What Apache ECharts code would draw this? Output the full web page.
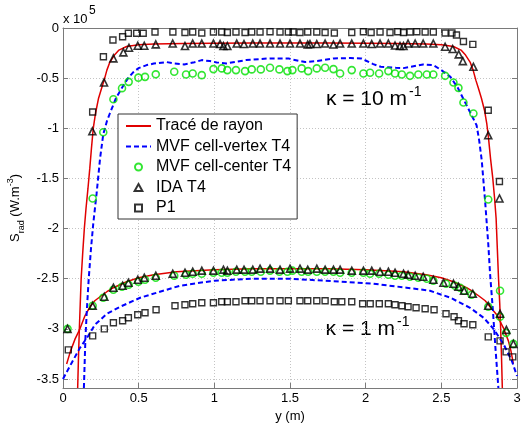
<!DOCTYPE html>
<html>
<head>
<meta charset="utf-8">
<script src="https://cdn.jsdelivr.net/npm/echarts@6/dist/echarts.min.js"></script>
<style>html,body{margin:0;padding:0;background:#fff;}#c{width:521px;height:425px;}</style>
</head>
<body>
<div id="c"></div>
<script>
// ---- data (values in units of 1e5 W.m^-3) ----
const xTicks = [0, 0.5, 1, 1.5, 2, 2.5, 3];
const yTicks = [0, -0.5, -1, -1.5, -2, -2.5, -3, -3.5];
const legendNames = ['Tracé de rayon', 'MVF cell-vertex T4', 'MVF cell-center T4', 'IDA T4', 'P1'];

// kappa = 10 m^-1
const rayK10 = [[0.097,-3.59],[0.102,-3.3],[0.108,-3.0],[0.114,-2.75],[0.12,-2.5],[0.13,-2.25],[0.141,-2.0],[0.152,-1.8],[0.165,-1.6],[0.177,-1.4],[0.188,-1.2],[0.2,-1.0],[0.215,-0.85],[0.235,-0.7],[0.255,-0.6],[0.272,-0.52],[0.29,-0.42],[0.31,-0.34],[0.34,-0.27],[0.37,-0.22],[0.42,-0.185],[0.5,-0.168],[0.6,-0.16],[0.8,-0.155],[1.0,-0.152],[1.25,-0.15],[1.5,-0.15],[1.75,-0.15],[2.0,-0.152],[2.2,-0.155],[2.4,-0.16],[2.5,-0.168],[2.58,-0.185],[2.63,-0.22],[2.66,-0.27],[2.69,-0.34],[2.71,-0.42],[2.728,-0.52],[2.745,-0.6],[2.765,-0.7],[2.785,-0.82],[2.8,-0.95],[2.812,-1.1],[2.825,-1.3],[2.84,-1.5],[2.852,-1.7],[2.862,-1.9],[2.87,-2.2],[2.878,-2.5],[2.886,-2.75],[2.892,-3.0],[2.898,-3.3],[2.903,-3.59]];
const vertexK10 = [[0.138,-3.59],[0.148,-3.1],[0.158,-2.8],[0.17,-2.5],[0.185,-2.2],[0.2,-1.95],[0.222,-1.65],[0.245,-1.3],[0.266,-1.06],[0.29,-0.93],[0.31,-0.85],[0.35,-0.7],[0.388,-0.6],[0.43,-0.5],[0.465,-0.44],[0.5,-0.4],[0.553,-0.37],[0.6,-0.355],[0.685,-0.34],[0.73,-0.353],[0.8,-0.363],[0.86,-0.345],[0.917,-0.32],[0.97,-0.33],[1.016,-0.343],[1.08,-0.353],[1.15,-0.335],[1.21,-0.32],[1.3,-0.31],[1.368,-0.303],[1.49,-0.303],[1.52,-0.315],[1.6,-0.34],[1.68,-0.33],[1.79,-0.303],[1.9,-0.3],[1.97,-0.303],[2.05,-0.36],[2.1,-0.387],[2.2,-0.397],[2.25,-0.4],[2.3,-0.387],[2.38,-0.363],[2.447,-0.37],[2.5,-0.42],[2.56,-0.487],[2.61,-0.6],[2.65,-0.72],[2.69,-0.84],[2.733,-0.97],[2.75,-1.12],[2.767,-1.32],[2.789,-1.72],[2.81,-2.15],[2.822,-2.45],[2.84,-2.8],[2.858,-3.2],[2.877,-3.59]];
const centerK10 = [[0.196,-1.70],[0.266,-1.04],[0.333,-0.71],[0.39,-0.60],[0.434,-0.537],[0.498,-0.495],[0.542,-0.487],[0.613,-0.462],[0.735,-0.437],[0.813,-0.463],[0.857,-0.453],[0.917,-0.47],[0.994,-0.41],[1.049,-0.403],[1.086,-0.42],[1.143,-0.42],[1.203,-0.43],[1.247,-0.413],[1.307,-0.413],[1.368,-0.397],[1.43,-0.413],[1.483,-0.43],[1.516,-0.42],[1.577,-0.403],[1.62,-0.43],[1.677,-0.403],[1.732,-0.397],[1.787,-0.41],[1.831,-0.453],[1.908,-0.42],[1.985,-0.453],[2.029,-0.447],[2.089,-0.453],[2.15,-0.43],[2.194,-0.453],[2.239,-0.463],[2.293,-0.477],[2.348,-0.463],[2.404,-0.463],[2.447,-0.463],[2.525,-0.477],[2.58,-0.543],[2.613,-0.597],[2.646,-0.743],[2.712,-0.853],[2.81,-1.71],[2.888,-2.62]];
const idaK10 = [[0.194,-1.03],[0.271,-0.543],[0.333,-0.303],[0.399,-0.243],[0.436,-0.197],[0.494,-0.177],[0.537,-0.177],[0.613,-0.163],[0.725,-0.155],[0.806,-0.18],[0.857,-0.155],[0.917,-0.155],[0.994,-0.155],[1.038,-0.16],[1.06,-0.18],[1.086,-0.18],[1.148,-0.155],[1.196,-0.16],[1.254,-0.155],[1.302,-0.155],[1.368,-0.155],[1.434,-0.155],[1.5,-0.155],[1.566,-0.155],[1.617,-0.165],[1.632,-0.16],[1.677,-0.16],[1.732,-0.155],[1.787,-0.165],[1.831,-0.155],[1.908,-0.155],[1.985,-0.155],[2.04,-0.16],[2.095,-0.155],[2.15,-0.155],[2.194,-0.175],[2.227,-0.18],[2.25,-0.18],[2.28,-0.155],[2.327,-0.155],[2.38,-0.155],[2.447,-0.155],[2.525,-0.187],[2.575,-0.21],[2.615,-0.263],[2.642,-0.33],[2.712,-0.387],[2.81,-1.07],[2.884,-1.70]];
const p1K10 = [[0.196,-0.837],[0.267,-0.287],[0.33,-0.12],[0.394,-0.087],[0.432,-0.053],[0.487,-0.053],[0.53,-0.053],[0.608,-0.04],[0.726,-0.04],[0.806,-0.045],[0.857,-0.04],[0.917,-0.05],[0.994,-0.04],[1.049,-0.04],[1.086,-0.045],[1.143,-0.04],[1.203,-0.045],[1.247,-0.04],[1.302,-0.04],[1.368,-0.037],[1.434,-0.04],[1.489,-0.04],[1.52,-0.04],[1.566,-0.045],[1.617,-0.04],[1.677,-0.04],[1.732,-0.045],[1.793,-0.05],[1.908,-0.045],[1.985,-0.037],[2.036,-0.045],[2.095,-0.04],[2.161,-0.045],[2.212,-0.037],[2.25,-0.045],[2.293,-0.04],[2.338,-0.037],[2.393,-0.04],[2.447,-0.04],[2.525,-0.05],[2.57,-0.05],[2.6,-0.07],[2.646,-0.135],[2.708,-0.163],[2.81,-0.82],[2.884,-1.53]];

// kappa = 1 m^-1
const rayK1 = [[0.024,-3.35],[0.05,-3.22],[0.08,-3.1],[0.112,-3.0],[0.145,-2.87],[0.178,-2.78],[0.21,-2.72],[0.245,-2.68],[0.29,-2.63],[0.333,-2.59],[0.42,-2.53],[0.5,-2.49],[0.6,-2.46],[0.75,-2.43],[1.0,-2.41],[1.25,-2.40],[1.5,-2.40],[1.75,-2.40],[2.0,-2.41],[2.25,-2.43],[2.4,-2.46],[2.5,-2.49],[2.58,-2.53],[2.667,-2.59],[2.71,-2.63],[2.755,-2.68],[2.79,-2.72],[2.822,-2.78],[2.866,-2.86],[2.91,-2.99],[2.943,-3.12],[2.96,-3.22],[2.976,-3.35]];
const vertexK1 = [[0.0,-3.5],[0.057,-3.34],[0.112,-3.19],[0.167,-3.07],[0.21,-2.96],[0.29,-2.85],[0.377,-2.78],[0.51,-2.69],[0.685,-2.61],[0.773,-2.57],[1.0,-2.52],[1.25,-2.5],[1.5,-2.5],[1.842,-2.53],[2.05,-2.55],[2.27,-2.59],[2.425,-2.62],[2.56,-2.69],[2.69,-2.79],[2.78,-2.89],[2.845,-3.0],[2.91,-3.15],[2.966,-3.32],[3.0,-3.47]];
const centerK1 = [[0.03,-3.0],[0.196,-2.77],[0.266,-2.69],[0.333,-2.61],[0.39,-2.58],[0.434,-2.56],[0.498,-2.53],[0.542,-2.51],[0.613,-2.49],[0.735,-2.47],[0.813,-2.46],[0.857,-2.45],[0.917,-2.45],[0.994,-2.44],[1.049,-2.44],[1.086,-2.44],[1.143,-2.43],[1.203,-2.43],[1.247,-2.43],[1.307,-2.43],[1.368,-2.42],[1.43,-2.43],[1.483,-2.43],[1.516,-2.42],[1.577,-2.43],[1.62,-2.43],[1.677,-2.43],[1.732,-2.43],[1.787,-2.43],[1.831,-2.44],[1.908,-2.44],[1.985,-2.44],[2.029,-2.45],[2.089,-2.45],[2.15,-2.46],[2.194,-2.47],[2.239,-2.47],[2.293,-2.48],[2.348,-2.49],[2.404,-2.50],[2.447,-2.52],[2.531,-2.55],[2.59,-2.57],[2.624,-2.59],[2.65,-2.62],[2.70,-2.66],[2.81,-2.78],[2.888,-2.88],[2.928,-3.04],[2.976,-3.15]];
const idaK1 = [[0.03,-3.0],[0.196,-2.77],[0.273,-2.68],[0.333,-2.59],[0.394,-2.57],[0.432,-2.54],[0.494,-2.51],[0.537,-2.49],[0.613,-2.47],[0.725,-2.45],[0.806,-2.44],[0.857,-2.43],[0.917,-2.42],[0.994,-2.42],[1.06,-2.41],[1.086,-2.42],[1.148,-2.41],[1.196,-2.41],[1.254,-2.41],[1.302,-2.40],[1.368,-2.40],[1.434,-2.41],[1.5,-2.40],[1.566,-2.40],[1.617,-2.41],[1.677,-2.40],[1.732,-2.41],[1.787,-2.41],[1.831,-2.41],[1.908,-2.42],[1.985,-2.42],[2.04,-2.42],[2.095,-2.43],[2.15,-2.43],[2.194,-2.44],[2.25,-2.45],[2.28,-2.46],[2.327,-2.47],[2.38,-2.48],[2.447,-2.51],[2.514,-2.54],[2.58,-2.55],[2.613,-2.58],[2.65,-2.62],[2.708,-2.65],[2.81,-2.77],[2.888,-2.85],[2.93,-3.01],[2.976,-3.15]];
const p1K1 = [[0.035,-3.21],[0.196,-3.07],[0.273,-3.0],[0.333,-2.94],[0.394,-2.92],[0.432,-2.89],[0.494,-2.86],[0.542,-2.84],[0.615,-2.81],[0.74,-2.77],[0.806,-2.76],[0.857,-2.75],[0.917,-2.74],[0.994,-2.74],[1.049,-2.73],[1.086,-2.73],[1.143,-2.73],[1.203,-2.72],[1.247,-2.72],[1.302,-2.72],[1.368,-2.72],[1.434,-2.72],[1.489,-2.72],[1.566,-2.72],[1.617,-2.72],[1.677,-2.72],[1.732,-2.72],[1.793,-2.73],[1.842,-2.73],[1.908,-2.73],[1.98,-2.75],[2.03,-2.75],[2.09,-2.75],[2.15,-2.75],[2.194,-2.76],[2.24,-2.77],[2.28,-2.78],[2.333,-2.79],[2.393,-2.80],[2.452,-2.81],[2.531,-2.85],[2.584,-2.88],[2.613,-2.92],[2.65,-2.95],[2.708,-2.96],[2.81,-3.08],[2.888,-3.12],[2.928,-3.23],[2.972,-3.28]];

// ---- chart ----
const FONT = '"Liberation Sans", Arial, sans-serif';
const AXIS_COLOR = '#7a7a7a';
const GRID_COLOR = '#c4c4c4';
const TRI_ICON = 'path://M5,0L10,9L0,9Z';
const SQ_ICON = 'path://M0,0L10,0L10,10L0,10Z';
const HIDE_SYMBOL = { color: 'rgba(0,0,0,0)', borderColor: 'rgba(0,0,0,0)', borderWidth: 0 };

function lineSeries(name, data, color, dashed) {
  return {
    name: name, type: 'line', data: data, symbol: 'none', z: 2,
    lineStyle: { color: color, width: dashed ? 2 : 1.5, type: dashed ? [5, 3] : 'solid' },
    itemStyle: { color: color }
  };
}
function markSeries(name, data, symbol, size, color, width) {
  return {
    name: name, type: 'scatter', data: data, symbol: symbol, symbolSize: size, z: 3,
    symbolKeepAspect: true,
    itemStyle: { color: 'rgba(0,0,0,0)', borderColor: color, borderWidth: width }
  };
}

const chart = echarts.init(document.getElementById('c'), null, { renderer: 'canvas' });
chart.setOption({
  animation: false,
  backgroundColor: '#fff',
  textStyle: { fontFamily: FONT },
  grid: { left: 63, right: 4, top: 28, bottom: 37, containLabel: false, outerBoundsMode: 'none' },
  legend: {
    data: [
      { name: legendNames[0], itemStyle: HIDE_SYMBOL },
      { name: legendNames[1], itemStyle: HIDE_SYMBOL },
      { name: legendNames[2] },
      { name: legendNames[3], icon: TRI_ICON },
      { name: legendNames[4], icon: SQ_ICON }
    ],
    orient: 'vertical', left: 118, top: 114,
    padding: [4, 6, 3, 7], itemGap: 4.5,
    itemWidth: 25, itemHeight: 7, symbolKeepAspect: true,
    backgroundColor: '#fff', borderColor: '#333', borderWidth: 1, borderRadius: 0,
    textStyle: { fontSize: 16, color: '#000', fontFamily: FONT },
    selectedMode: false
  },
  xAxis: [{
    type: 'value', min: 0, max: 3, interval: 0.5,
    name: 'y (m)', nameLocation: 'middle', nameGap: 20,
    nameTextStyle: { fontSize: 13, color: '#000', fontFamily: FONT },
    axisLine: { show: true, onZero: false, lineStyle: { color: AXIS_COLOR, width: 1 } },
    axisTick: { show: true, inside: true, length: 5, lineStyle: { color: AXIS_COLOR } },
    axisLabel: { margin: 4, fontSize: 13, color: '#000', fontFamily: FONT },
    splitLine: { show: true, lineStyle: { color: GRID_COLOR, type: [1, 2], width: 1 } }
  }, {
    type: 'value', min: 0, max: 3, interval: 0.5, position: 'top',
    axisLine: { show: true, onZero: false, lineStyle: { color: AXIS_COLOR, width: 1 } },
    axisTick: { show: true, inside: true, length: 5, lineStyle: { color: AXIS_COLOR } },
    axisLabel: { show: false }, splitLine: { show: false }
  }],
  yAxis: [{
    type: 'value', min: -3.59, max: 0,
    name: '{n|S}{sub|rad}{n| (W.m}{sup|-3}{n|)}',
    nameLocation: 'middle', nameRotate: 90, nameGap: 34,
    nameTextStyle: {
      color: '#000', fontFamily: FONT,
      rich: {
        n: { fontSize: 13, lineHeight: 20, color: '#000', fontFamily: FONT },
        sub: { fontSize: 9, verticalAlign: 'bottom', color: '#000', fontFamily: FONT },
        sup: { fontSize: 9, verticalAlign: 'top', color: '#000', fontFamily: FONT }
      }
    },
    axisLine: { show: true, onZero: false, lineStyle: { color: AXIS_COLOR, width: 1 } },
    axisTick: { show: true, inside: true, length: 5, customValues: yTicks, lineStyle: { color: AXIS_COLOR } },
    axisLabel: { margin: 4, fontSize: 13, color: '#000', fontFamily: FONT, customValues: yTicks },
    splitLine: { show: true, lineStyle: { color: GRID_COLOR, type: [1, 2], width: 1 } }
  }, {
    type: 'value', min: -3.59, max: 0, position: 'right',
    axisLine: { show: true, onZero: false, lineStyle: { color: AXIS_COLOR, width: 1 } },
    axisTick: { show: true, inside: true, length: 5, customValues: yTicks, lineStyle: { color: AXIS_COLOR } },
    axisLabel: { show: false }, splitLine: { show: false }
  }],
  graphic: [
    { type: 'text', left: 63, top: 13, style: { text: 'x 10', fontSize: 13, fill: '#000', fontFamily: FONT } },
    { type: 'text', left: 89, top: 5, style: { text: '5', fontSize: 12, fill: '#000', fontFamily: FONT } },
    { type: 'text', right: 521 - 407, top: 89, style: { text: 'κ = 10 m', fontSize: 21, fill: '#000', fontFamily: FONT } },
    { type: 'text', left: 409, top: 85, style: { text: '-1', fontSize: 14, fill: '#000', fontFamily: FONT } },
    { type: 'text', right: 521 - 395, top: 319, style: { text: 'κ = 1 m', fontSize: 21, fill: '#000', fontFamily: FONT } },
    { type: 'text', left: 397, top: 315, style: { text: '-1', fontSize: 14, fill: '#000', fontFamily: FONT } }
  ],
  series: [
    lineSeries(legendNames[0], rayK10, '#e00000', false),
    lineSeries(legendNames[0], rayK1, '#e00000', false),
    lineSeries(legendNames[1], vertexK10, '#0000ff', true),
    lineSeries(legendNames[1], vertexK1, '#0000ff', true),
    markSeries(legendNames[2], centerK10, 'circle', 7, '#00e000', 1.6),
    markSeries(legendNames[2], centerK1, 'circle', 7, '#00e000', 1.6),
    markSeries(legendNames[3], idaK10, 'triangle', 7, '#000', 1.6),
    markSeries(legendNames[3], idaK1, 'triangle', 7, '#000', 1.6),
    markSeries(legendNames[4], p1K10, 'rect', 6, '#000', 1.4),
    markSeries(legendNames[4], p1K1, 'rect', 6, '#000', 1.4)
  ]
});
</script>
</body>
</html>
